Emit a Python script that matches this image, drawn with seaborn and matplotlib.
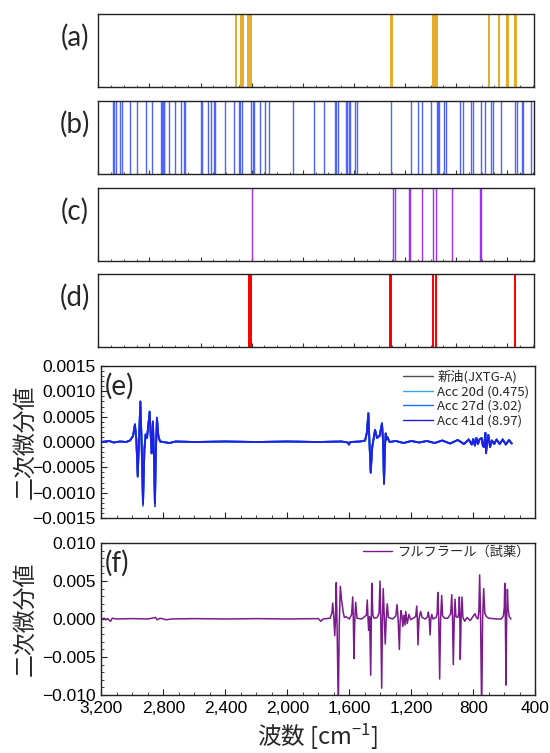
import numpy as np
import pandas as pd
import matplotlib
matplotlib.use("Agg")
import matplotlib.pyplot as plt
import seaborn as sns
from matplotlib.ticker import MultipleLocator, FuncFormatter, NullFormatter

# ---------------------------------------------------------------- data
# (a)-(d): selected variables (index along the spectral axis)
a_start = [535, 555, 582, 1142, 1307, 1525, 1563, 1596, 1627]
a_end = [542, 570, 603, 1152, 1330, 1533, 1572, 1608, 1639]

b_idx = [56, 61, 69, 86, 92, 125, 153, 186, 211, 247, 250, 253, 256, 259,
         278, 301, 325, 337, 341, 402, 405, 428, 440, 452, 457, 497, 532,
         551, 556, 561, 599, 604, 608, 632, 654, 667, 762, 845, 885, 925,
         931, 938, 968, 973, 979, 984, 1006, 1011, 1144, 1223, 1252, 1266,
         1301, 1325, 1330, 1335, 1352, 1360, 1416, 1427, 1460, 1467, 1497,
         1515, 1537, 1545, 1575, 1632, 1638, 1657, 1663, 1695]

c_idx = [603, 1152, 1161, 1214, 1218, 1268, 1309, 1321, 1384, 1492, 1496]

d_start = [586, 1139, 1307, 1319, 1627]
d_end = [602, 1150, 1312, 1326, 1634]

# (e): second-derivative spectra of the oils
e_wn = [3200, 3150, 3120, 3080, 3040, 3015, 2995, 2983, 2974, 2965, 2956,
        2948, 2940, 2931, 2922, 2914, 2905, 2888, 2880, 2875, 2867, 2860,
        2854, 2848, 2841, 2832, 2821, 2760, 2720, 2600, 2400, 2200, 2000,
        1800, 1650, 1610, 1602, 1594, 1530, 1498, 1487, 1477, 1470, 1462,
        1452, 1434, 1421, 1405, 1389, 1382, 1376, 1370, 1365, 1360, 1355,
        1340, 1300, 1250, 1200, 1150, 1100, 1050, 1000, 950, 900, 860, 830,
        810, 800, 790, 780, 770, 760, 746, 738, 731, 726, 722, 718, 712,
        703, 697, 692, 680, 665, 650, 630, 610, 590, 570, 552]

e_new = [0.00000, 0.00002, -0.00001, 0.00001, 0.00000, 0.00003, 0.00012,
         0.00034, 0.00005, -0.00069, 0.00010, 0.00079, 0.00000, -0.00126,
         -0.00015, 0.00015, 0.00008, 0.00059, 0.00005, -0.00023, 0.00041,
         -0.00030, -0.00127, -0.00020, 0.00047, 0.00012, 0.00001, -0.00002,
         0.00001, 0.00000, 0.00001, 0.00000, 0.00001, 0.00000, 0.00001,
         -0.00001, -0.00005, 0.00000, 0.00001, 0.00003, 0.00018, 0.00056,
         0.00000, -0.00061, -0.00010, 0.00023, 0.00008, 0.00012, 0.00036,
         0.00000, -0.00083, -0.00010, 0.00017, 0.00005, 0.00010, 0.00000,
         0.00002, -0.00002, 0.00002, -0.00001, 0.00002, -0.00002, 0.00003,
         -0.00003, 0.00004, -0.00004, 0.00005, -0.00005, 0.00006, -0.00007,
         0.00008, -0.00004, 0.00005, 0.00008, -0.00008, -0.00010, 0.00005,
         0.00018, -0.00022, -0.00005, 0.00014, 0.00002, -0.00010, 0.00003,
         -0.00004, 0.00005, -0.00004, 0.00005, -0.00005, 0.00004, -0.00003]

e_acc20 = [0.00000, 0.00002, -0.00001, 0.00001, 0.00000, 0.00003, 0.00012,
           0.00035, 0.00005, -0.00068, 0.00010, 0.00080, 0.00000, -0.00124,
           -0.00015, 0.00015, 0.00008, 0.00060, 0.00005, -0.00022, 0.00040,
           -0.00030, -0.00124, -0.00020, 0.00048, 0.00012, 0.00001, -0.00002,
           0.00001, 0.00000, 0.00001, 0.00000, 0.00001, 0.00000, 0.00001,
           -0.00001, -0.00005, 0.00000, 0.00001, 0.00003, 0.00018, 0.00057,
           0.00000, -0.00060, -0.00010, 0.00024, 0.00008, 0.00012, 0.00037,
           0.00000, -0.00082, -0.00010, 0.00017, 0.00005, 0.00010, 0.00000,
           0.00002, -0.00002, 0.00002, -0.00001, 0.00002, -0.00002, 0.00003,
           -0.00003, 0.00004, -0.00004, 0.00005, -0.00005, 0.00006, -0.00007,
           0.00008, -0.00004, 0.00005, 0.00008, -0.00008, -0.00010, 0.00005,
           0.00018, -0.00022, -0.00005, 0.00014, 0.00002, -0.00010, 0.00003,
           -0.00004, 0.00005, -0.00004, 0.00005, -0.00005, 0.00004, -0.00003]

e_acc27 = [0.00000, 0.00002, -0.00001, 0.00001, 0.00000, 0.00003, 0.00012,
           0.00035, 0.00005, -0.00067, 0.00010, 0.00080, 0.00000, -0.00123,
           -0.00015, 0.00015, 0.00008, 0.00060, 0.00005, -0.00022, 0.00040,
           -0.00030, -0.00123, -0.00020, 0.00048, 0.00012, 0.00001, -0.00002,
           0.00001, 0.00000, 0.00001, 0.00000, 0.00001, 0.00000, 0.00001,
           -0.00001, -0.00005, 0.00000, 0.00001, 0.00003, 0.00018, 0.00057,
           0.00000, -0.00060, -0.00010, 0.00024, 0.00008, 0.00012, 0.00037,
           0.00000, -0.00082, -0.00010, 0.00017, 0.00005, 0.00010, 0.00000,
           0.00002, -0.00002, 0.00002, -0.00001, 0.00002, -0.00002, 0.00003,
           -0.00003, 0.00004, -0.00004, 0.00005, -0.00005, 0.00006, -0.00007,
           0.00008, -0.00004, 0.00005, 0.00008, -0.00008, -0.00010, 0.00005,
           0.00018, -0.00022, -0.00005, 0.00014, 0.00002, -0.00010, 0.00003,
           -0.00004, 0.00005, -0.00004, 0.00005, -0.00005, 0.00004, -0.00003]

e_acc41 = [0.00000, 0.00002, -0.00001, 0.00001, 0.00000, 0.00003, 0.00012,
           0.00035, 0.00005, -0.00067, 0.00010, 0.00080, 0.00000, -0.00122,
           -0.00015, 0.00015, 0.00008, 0.00060, 0.00005, -0.00022, 0.00040,
           -0.00030, -0.00121, -0.00020, 0.00048, 0.00012, 0.00001, -0.00002,
           0.00001, 0.00000, 0.00001, 0.00000, 0.00001, 0.00000, 0.00001,
           -0.00001, -0.00005, 0.00000, 0.00001, 0.00003, 0.00018, 0.00057,
           0.00000, -0.00060, -0.00010, 0.00024, 0.00008, 0.00012, 0.00037,
           0.00000, -0.00082, -0.00010, 0.00017, 0.00005, 0.00010, 0.00000,
           0.00002, -0.00002, 0.00002, -0.00001, 0.00002, -0.00002, 0.00003,
           -0.00003, 0.00004, -0.00004, 0.00005, -0.00005, 0.00006, -0.00007,
           0.00008, -0.00004, 0.00005, 0.00008, -0.00008, -0.00010, 0.00005,
           0.00018, -0.00022, -0.00005, 0.00014, 0.00002, -0.00010, 0.00003,
           -0.00004, 0.00005, -0.00004, 0.00005, -0.00005, 0.00004, -0.00003]

e_labels = ["新油(JXTG-A)", "Acc 20d (0.475)", "Acc 27d (3.02)", "Acc 41d (8.97)"]
e_colors = ["#505050", "#38a8f0", "#1e66f5", "#1f1fe6"]

# (f): second-derivative spectrum of the furfural reagent
f_wn = [3200, 3180, 3170, 3160, 3140, 3130, 3100, 3000, 2900, 2850, 2840,
        2820, 2780, 2750, 2600, 2400, 2200, 2000, 1800, 1784, 1770, 1724,
        1712, 1707, 1700, 1694, 1689, 1684, 1678, 1671, 1665, 1658, 1650,
        1639, 1632, 1620, 1600, 1585, 1578, 1574, 1570, 1565, 1559, 1550,
        1520, 1490, 1484, 1479, 1475, 1469, 1462, 1455, 1448, 1440, 1420,
        1408, 1402, 1397, 1391, 1386, 1381, 1375, 1368, 1362, 1355, 1348,
        1320, 1300, 1292, 1285, 1277, 1272, 1266, 1260, 1255, 1247, 1240,
        1236, 1226, 1215, 1204, 1190, 1172, 1165, 1161, 1157, 1150, 1140,
        1130, 1110, 1095, 1090, 1084, 1079, 1074, 1068, 1060, 1040, 1033,
        1029, 1023, 1017, 1011, 1004, 998, 985, 965, 955, 946, 939, 934,
        929, 923, 918, 912, 900, 893, 890, 887, 884, 879, 873, 867, 855,
        840, 820, 800, 789, 780, 770, 764, 759, 753, 746, 740, 733, 726,
        715, 700, 650, 620, 606, 600, 597, 593, 589, 585, 580, 575, 568, 557]

f_val = [0.0, 0.0001, -0.0001, 0.00005, -0.0003, 0.0001, 0.0, 0.00005, 0.0,
         0.0002, -0.0001, 0.0001, -0.0001, 0.0, 0.00005, 0.0, 0.00005, 0.0,
         0.00005, -0.0003, 0.0, 0.0001, 0.0008, 0.0021, 0.0003, -0.0022, 0.0,
         0.0048, -0.0020, -0.0118, -0.0010, 0.0043, 0.0025, 0.0009, 0.0002,
         0.0003, 0.0, 0.0006, 0.0029, 0.0, -0.0052, -0.0005, 0.0022, 0.0001,
         0.0, 0.0005, 0.0025, 0.0, -0.0015, 0.0003, -0.0074, 0.0047, 0.0005,
         0.0001, 0.0002, 0.0008, 0.0050, 0.0, -0.0091, 0.0, 0.0040, 0.0005,
         -0.0033, 0.0, 0.0020, 0.0002, 0.0, 0.0004, 0.0019, 0.0, -0.0040,
         -0.0003, 0.0011, 0.0003, -0.0010, 0.0005, -0.0008, 0.0010, -0.0006,
         0.0006, -0.0001, 0.0001, 0.0003, 0.0017, 0.0, -0.0034, 0.0, 0.0010,
         0.0002, 0.0, 0.0003, 0.0009, 0.0, -0.0021, 0.0, 0.0006, 0.0, 0.0002,
         0.0008, 0.0035, 0.0, -0.0079, 0.0, 0.0031, 0.0004, 0.0001, 0.0001,
         0.0004, 0.0007, 0.0032, 0.0, -0.0060, 0.0, 0.0026, 0.0003, 0.0002,
         0.0008, 0.0029, 0.0, -0.0053, 0.0, 0.0029, 0.0002, -0.0003, 0.0002,
         -0.0002, 0.0004, 0.0007, 0.0002, 0.0, 0.0010, 0.0058, 0.0, -0.0125,
         0.0, 0.0040, 0.0008, 0.0003, 0.0001, 0.0, 0.0, 0.0004, 0.0015,
         0.0047, 0.0, -0.0087, 0.0, 0.0039, 0.0012, 0.0003, 0.0]
f_label = "フルフラール（試薬）"

# ---------------------------------------------------------------- style
sns.set_theme(style="ticks")
plt.rcParams["font.family"] = ["Liberation Sans", "Noto Sans CJK JP", "DejaVu Sans"]
plt.rcParams["mathtext.default"] = "regular"
plt.rcParams["axes.unicode_minus"] = True

W, H = 550, 753
fig = plt.figure(figsize=(W / 100, H / 100), dpi=100)


def box(x0, y0, x1, y1):
    return [x0 / W, 1 - y1 / H, (x1 - x0) / W, (y1 - y0) / H]


CJK = ["Noto Sans CJK JP", "DejaVu Sans"]
LBL = ["Lato", "DejaVu Sans"]
N_VAR = 1706


def band_axes(y0, y1, tag):
    ax = fig.add_axes(box(98.3, y0, 534.3, y1))
    ax.set_xlim(0, N_VAR)
    ax.set_ylim(0, 1)
    ax.xaxis.set_major_locator(MultipleLocator(200))
    ax.xaxis.set_minor_locator(MultipleLocator(50))
    ax.xaxis.set_major_formatter(NullFormatter())
    ax.set_yticks([])
    ax.tick_params(axis="x", which="both", direction="in", bottom=True,
                   top=False, colors="#333333")
    ax.tick_params(axis="x", which="major", length=3.2, width=0.8)
    ax.tick_params(axis="x", which="minor", length=1.8, width=0.6)
    for s in ax.spines.values():
        s.set_linewidth(1.0)
        s.set_color("#222222")
    fig.text(75 / W, 1 - (y0 + 23) / H, f"({tag})", fontsize=20,
             family=LBL, ha="center", va="center")
    return ax


ax_a = band_axes(14, 87, "a")
ax_a.bar(a_start, 1, width=np.subtract(a_end, a_start), align="edge",
         color="#e6ae2e", linewidth=0)

ax_b = band_axes(101, 174, "b")
sns.rugplot(x=b_idx, height=1, ax=ax_b, color="#4f63ff", lw=0.9,
            expand_margins=False)

ax_c = band_axes(188, 261, "c")
sns.rugplot(x=c_idx, height=1, ax=ax_c, color="#9b30ff", lw=0.9,
            expand_margins=False)

ax_d = band_axes(274, 347, "d")
ax_d.bar(d_start, 1, width=np.subtract(d_end, d_start), align="edge",
         color="#ff0000", linewidth=0)


# ---------------------------------------------------------------- spectra
def spec_axes(y0, y1, tag):
    ax = fig.add_axes(box(101.3, y0, 535.3, y1))
    ax.set_xlim(3200, 400)
    ax.xaxis.set_major_locator(MultipleLocator(400))
    ax.xaxis.set_minor_locator(MultipleLocator(100))
    ax.tick_params(axis="both", which="both", direction="in", bottom=True,
                   left=True, top=False, right=False, colors="#222222",
                   labelsize=12.5, labelcolor="black")
    ax.tick_params(axis="both", which="major", length=4.5, width=0.8, pad=4)
    ax.tick_params(axis="both", which="minor", length=2.5, width=0.6)
    for s in ax.spines.values():
        s.set_linewidth(1.0)
        s.set_color("#222222")
    ax.text(0.008, 0.865, f"({tag})", transform=ax.transAxes, fontsize=20,
            family=LBL, ha="left", va="center")
    fig.text(25 / W, 1 - ((y0 + y1) / 2) / H, "二次微分値", rotation=90,
             fontsize=16.5, family=CJK, ha="center", va="center")
    ax.set_xlabel("")
    ax.set_ylabel("")
    return ax


def minus_fmt(decimals):
    def f(v, pos):
        s = f"{v:.{decimals}f}"
        if float(s) == 0:
            s = f"{0:.{decimals}f}"
        return s.replace("-", "\u2212")
    return FuncFormatter(f)


ax_e = spec_axes(366, 518, "e")
df_e = pd.concat([
    pd.DataFrame({"wn": e_wn, "val": v, "series": lab})
    for v, lab in zip([e_new, e_acc20, e_acc27, e_acc41], e_labels)
])
sns.lineplot(data=df_e, x="wn", y="val", hue="series", hue_order=e_labels,
             palette=e_colors, estimator=None, sort=False, lw=1.3, ax=ax_e)
ax_e.set_xlim(3200, 400)
ax_e.set_ylim(-0.0015, 0.0015)
ax_e.yaxis.set_major_locator(MultipleLocator(0.0005))
ax_e.yaxis.set_minor_locator(MultipleLocator(0.0001))
ax_e.yaxis.set_major_formatter(minus_fmt(4))
ax_e.xaxis.set_major_formatter(NullFormatter())
ax_e.set_xlabel("")
ax_e.set_ylabel("")
leg = ax_e.legend(loc="upper right", frameon=False, bbox_to_anchor=(1.005, 1.025),
                  prop={"family": CJK, "size": 9.5}, handlelength=2.3,
                  handletextpad=0.3, labelspacing=0.12, borderaxespad=0.2)
for line in leg.get_lines():
    line.set_linewidth(1.0)

ax_f = spec_axes(543, 695, "f")
df_f = pd.DataFrame({"wn": f_wn, "val": f_val, "series": f_label})
sns.lineplot(data=df_f, x="wn", y="val", hue="series", palette=["#7a1a8c"],
             estimator=None, sort=False, lw=1.1, ax=ax_f)
ax_f.set_xlim(3200, 400)
ax_f.set_ylim(-0.010, 0.010)
ax_f.yaxis.set_major_locator(MultipleLocator(0.005))
ax_f.yaxis.set_minor_locator(MultipleLocator(0.001))
ax_f.yaxis.set_major_formatter(minus_fmt(3))
ax_f.xaxis.set_major_formatter(FuncFormatter(lambda v, p: f"{v:,.0f}"))
ax_f.set_xlabel("")
ax_f.set_ylabel("")
leg_f = ax_f.legend(loc="upper right", frameon=False, bbox_to_anchor=(1.005, 1.035),
                    prop={"family": CJK, "size": 9.5}, handlelength=2.2,
                    handletextpad=0.4, borderaxespad=0.2)
for line in leg_f.get_lines():
    line.set_linewidth(1.0)

fig.text(318 / W, 1 - 737 / H, "波数 [cm$^{-1}$]", fontsize=17, family=CJK,
         ha="center", va="center")

fig.savefig("out.png", dpi=100)
